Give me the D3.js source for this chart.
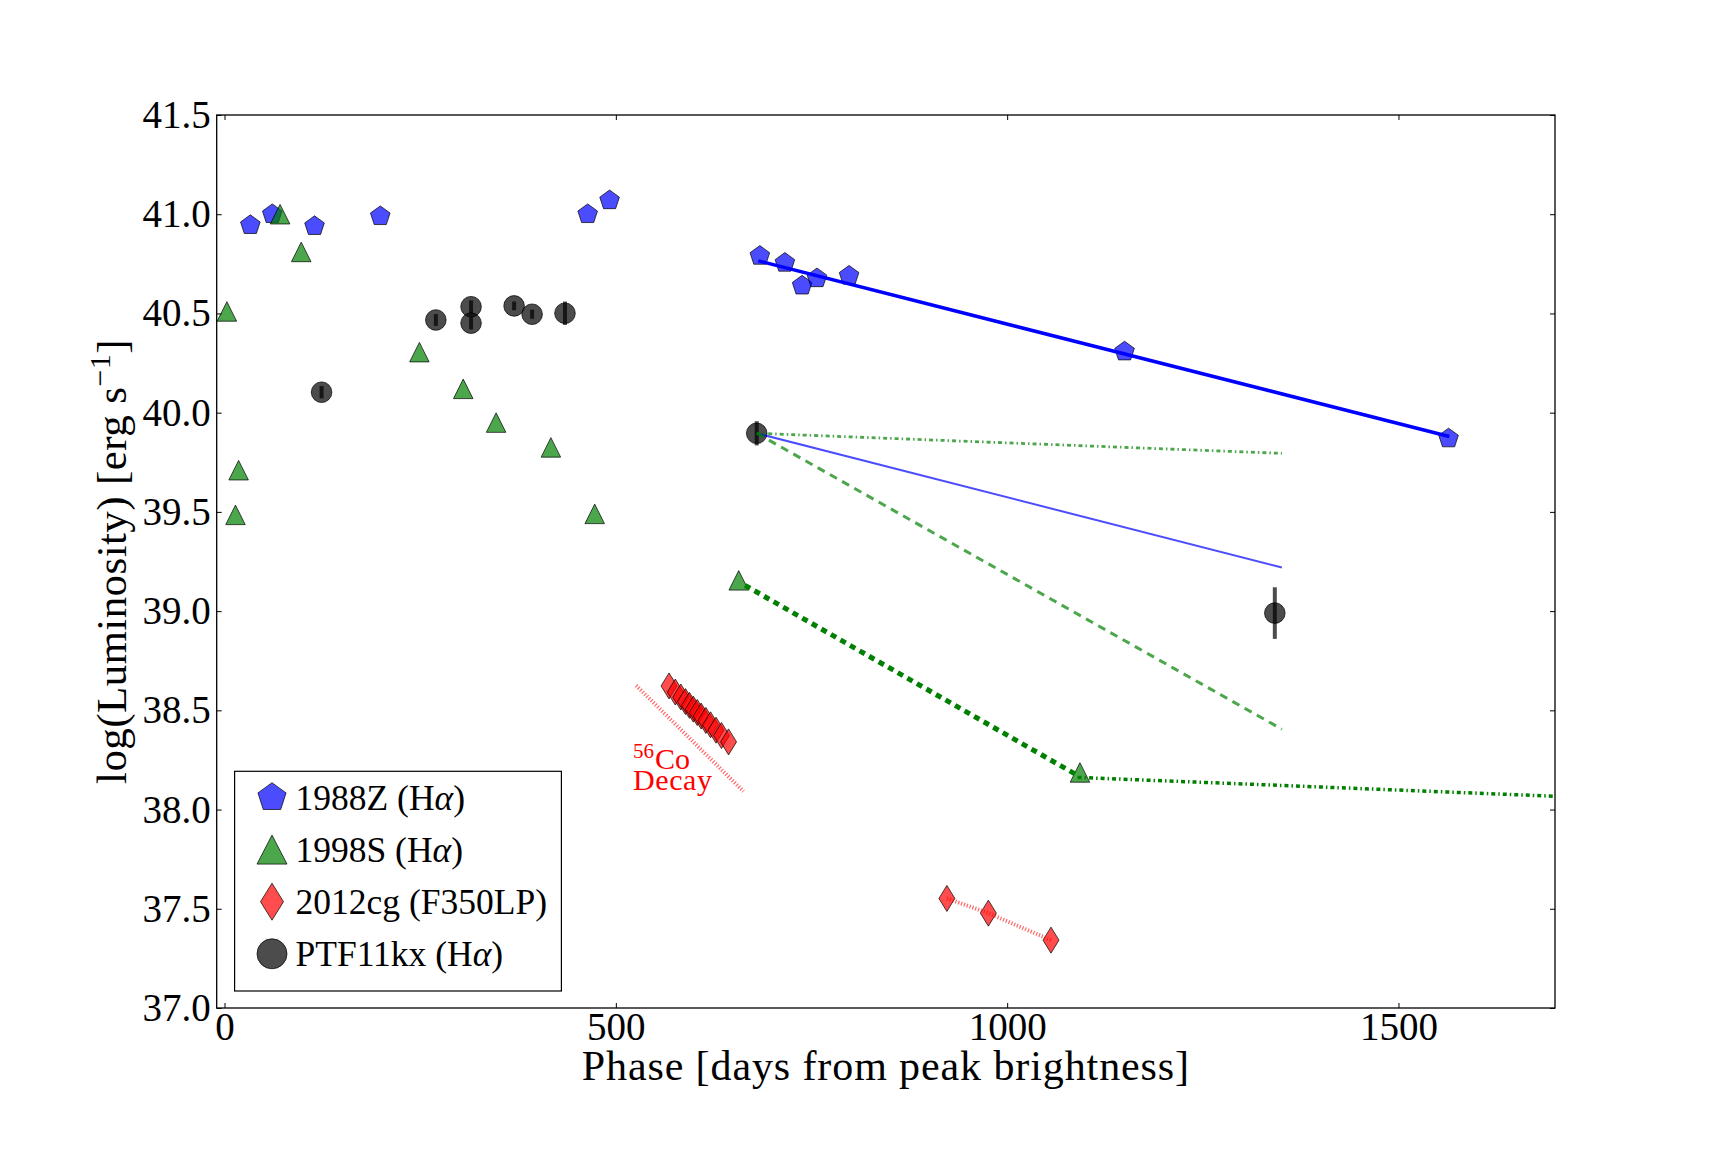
<!DOCTYPE html>
<html>
<head>
<meta charset="utf-8">
<script src="https://cdn.jsdelivr.net/npm/d3@7"></script>
<style>
  body { margin: 0; background: #fff; }
  text { font-family: "Liberation Serif", "DejaVu Serif", serif; }
</style>
</head>
<body>
<svg id="chart" width="1728" height="1152"></svg>
<script>
// values (days from peak, log L)
var sn1988zDays = [33, 61, 115, 199, 464, 492, 684, 716, 738, 757, 798, 1150, 1564];
var sn1988zLum  = [40.945, 41.0, 40.94, 40.99, 41.0, 41.07, 40.79, 40.755, 40.64, 40.677, 40.69, 40.308, 39.87];

var sn1998sDays = [3, 14, 18, 71, 98, 249, 305, 347, 417, 473, 657, 1093];
var sn1998sLum  = [40.51, 39.485, 39.71, 41.0, 40.81, 40.305, 40.12, 39.95, 39.825, 39.49, 39.155, 38.187];

var sn2012cgDays = [568, 576, 583, 589, 594, 599, 604, 609, 615, 621, 628, 635, 644, 923, 976, 1056];
var sn2012cgLum  = [38.623, 38.592, 38.567, 38.544, 38.525, 38.506, 38.489, 38.471, 38.449, 38.427, 38.40, 38.373, 38.341, 37.552, 37.478, 37.342];

var ptf11kxDays = [124, 270, 315, 315, 370, 393, 435, 680, 1342];
var ptf11kxLum  = [40.103, 40.467, 40.534, 40.451, 40.538, 40.496, 40.501, 39.896, 38.99];
var ptf11kxErr  = [0.031, 0.03, 0.032, 0.032, 0.022, 0.023, 0.059, 0.061, 0.13];

// model / fit lines, [day, logL] end points
var fit1988z      = [[682, 40.765], [1565, 39.88]];
var ptfSlow1988z  = [[680, 39.896], [1351, 39.22]];
var ptfFlat1998s  = [[680, 39.896], [1351, 39.795]];
var ptfSteep1998s = [[680, 39.896], [1351, 38.405]];
var fit1998sEarly = [[665, 39.13], [1090, 38.172]];
var fit1998sLate  = [[1090, 38.162], [1700, 38.067]];
var cobaltDecay   = [[526, 38.625], [663, 38.092]];
var fit2012cgLate = [[923, 37.552], [976, 37.478], [1056, 37.342]];

var xTicks = [0, 500, 1000, 1500];
var yTicks = [37.0, 37.5, 38.0, 38.5, 39.0, 39.5, 40.0, 40.5, 41.0, 41.5];

var legendLabels = ["1988Z (H", "1998S (H", "2012cg (F350LP)", "PTF11kx (H"];
var legendAlpha  = [true, true, false, true];

var plot = { left: 216.7, right: 1555, top: 115, bottom: 1008 };

var svg = d3.select("#chart");

var x = d3.scaleLinear().domain([-10, 1700]).range([plot.left, plot.right]);
var y = d3.scaleLinear().domain([37, 41.5]).range([plot.bottom, plot.top]);

var edge = "rgba(0,0,0,0.7)";
var blueFill = "rgba(0,0,255,0.7)";
var greenFill = "rgba(0,128,0,0.7)";
var redFill = "rgba(255,0,0,0.7)";
var blackFill = "rgba(0,0,0,0.7)";

function pentagon(r) {
  var p = d3.path();
  for (var i = 0; i < 5; i++) {
    var a = -Math.PI / 2 + i * 2 * Math.PI / 5;
    if (i == 0) p.moveTo(r * Math.cos(a), r * Math.sin(a));
    else p.lineTo(r * Math.cos(a), r * Math.sin(a));
  }
  p.closePath();
  return p.toString();
}
function triangle(w, h) {
  return "M0," + (-h / 2) + "L" + (w / 2) + "," + (h / 2) + "L" + (-w / 2) + "," + (h / 2) + "Z";
}
function diamond(w, h) {
  return "M0," + (-h / 2) + "L" + (w / 2) + ",0L0," + (h / 2) + "L" + (-w / 2) + ",0Z";
}

// clip for lines reaching the right spine
svg.append("clipPath").attr("id", "clip")
  .append("rect")
  .attr("x", plot.left).attr("y", plot.top)
  .attr("width", plot.right - plot.left).attr("height", plot.bottom - plot.top);

var marks = svg.append("g");

// 1988Z
marks.append("g").selectAll("path")
  .data(sn1988zDays)
  .enter()
  .append("path")
  .attr("d", pentagon(10.3))
  .attr("transform", function (d, i) { return "translate(" + x(d) + "," + y(sn1988zLum[i]) + ")"; })
  .attr("fill", blueFill)
  .attr("stroke", edge)
  .attr("stroke-width", 1);

// 1998S
marks.append("g").selectAll("path")
  .data(sn1998sDays)
  .enter()
  .append("path")
  .attr("d", triangle(19.5, 19.5))
  .attr("transform", function (d, i) { return "translate(" + x(d) + "," + y(sn1998sLum[i]) + ")"; })
  .attr("fill", greenFill)
  .attr("stroke", edge)
  .attr("stroke-width", 1);

// 2012cg
marks.append("g").selectAll("path")
  .data(sn2012cgDays)
  .enter()
  .append("path")
  .attr("d", diamond(16, 26))
  .attr("transform", function (d, i) { return "translate(" + x(d) + "," + y(sn2012cgLum[i]) + ")"; })
  .attr("fill", redFill)
  .attr("stroke", edge)
  .attr("stroke-width", 1);

// PTF11kx with error bars
marks.append("g").selectAll("circle")
  .data(ptf11kxDays)
  .enter()
  .append("circle")
  .attr("cx", function (d) { return x(d); })
  .attr("cy", function (d, i) { return y(ptf11kxLum[i]); })
  .attr("r", 10.3)
  .attr("fill", blackFill)
  .attr("stroke", edge)
  .attr("stroke-width", 1);

marks.append("g").selectAll("line")
  .data(ptf11kxDays)
  .enter()
  .append("line")
  .attr("x1", function (d) { return x(d); })
  .attr("x2", function (d) { return x(d); })
  .attr("y1", function (d, i) { return y(ptf11kxLum[i] + ptf11kxErr[i]); })
  .attr("y2", function (d, i) { return y(ptf11kxLum[i] - ptf11kxErr[i]); })
  .attr("stroke", "rgba(0,0,0,0.7)")
  .attr("stroke-width", 4);

// lines on top of markers
var line = d3.line()
  .x(function (d) { return x(d[0]); })
  .y(function (d) { return y(d[1]); });

var lines = svg.append("g").attr("clip-path", "url(#clip)").attr("fill", "none");

function drawLine(pts, color, width, dash) {
  var p = lines.append("path")
    .datum(pts)
    .attr("d", line)
    .attr("stroke", color)
    .attr("stroke-width", width);
  if (dash) p.attr("stroke-dasharray", dash);
}

drawLine(fit1988z, "#0000ff", 3.5, null);
drawLine(ptfSlow1988z, "rgba(0,0,255,0.7)", 2, null);
drawLine(ptfFlat1998s, "rgba(0,128,0,0.7)", 2.8, "4,3,1.5,3");
drawLine(ptfSteep1998s, "rgba(0,128,0,0.7)", 3, "8,6");
drawLine(fit1998sEarly, "#008000", 5, "6,5");
drawLine(fit1998sLate, "#008000", 3.5, "4,3,1.5,3");
drawLine(cobaltDecay, "rgba(255,0,0,0.6)", 4, "1.2,1.8");
drawLine(fit2012cgLate, "rgba(255,0,0,0.6)", 4, "1.2,1.8");

// 56Co decay note
var note = svg.append("g").attr("fill", "#ff0000");
note.append("text").attr("x", 633).attr("y", 758).attr("font-size", 21).text("56");
note.append("text").attr("x", 655).attr("y", 769).attr("font-size", 30).text("Co");
note.append("text").attr("x", 633).attr("y", 790).attr("font-size", 30).attr("letter-spacing", 0.6).text("Decay");

// axes: ticks inward on all four sides
function styleAxis(g) {
  g.select(".domain").remove();
  g.selectAll(".tick line").attr("stroke", "#000").attr("stroke-width", 1);
  g.selectAll(".tick text")
    .attr("fill", "#000")
    .style("font-family", "'Liberation Serif', serif")
    .attr("font-size", 39);
}

svg.append("g")
  .attr("transform", "translate(0," + plot.bottom + ")")
  .call(d3.axisBottom(x).tickValues(xTicks).tickSizeInner(-5).tickSizeOuter(0).tickPadding(4)
    .tickFormat(d3.format("d")))
  .call(styleAxis);

svg.append("g")
  .attr("transform", "translate(0," + plot.top + ")")
  .call(d3.axisTop(x).tickValues(xTicks).tickSizeInner(-5).tickSizeOuter(0).tickFormat(""))
  .call(styleAxis);

svg.append("g")
  .attr("transform", "translate(" + plot.left + ",0)")
  .call(d3.axisLeft(y).tickValues(yTicks).tickSizeInner(-5).tickSizeOuter(0).tickPadding(6)
    .tickFormat(d3.format(".1f")))
  .call(styleAxis);

svg.append("g")
  .attr("transform", "translate(" + plot.right + ",0)")
  .call(d3.axisRight(y).tickValues(yTicks).tickSizeInner(-5).tickSizeOuter(0).tickFormat(""))
  .call(styleAxis);

svg.append("rect")
  .attr("x", plot.left).attr("y", plot.top)
  .attr("width", plot.right - plot.left).attr("height", plot.bottom - plot.top)
  .attr("fill", "none")
  .attr("stroke", "#000")
  .attr("stroke-width", 1.3);

// axis labels
svg.append("text")
  .attr("x", (plot.left + plot.right) / 2)
  .attr("y", 1080)
  .attr("text-anchor", "middle")
  .attr("font-size", 42)
  .attr("letter-spacing", 0.9)
  .text("Phase [days from peak brightness]");

var ylab = svg.append("text")
  .attr("transform", "translate(126," + ((plot.top + plot.bottom) / 2) + ") rotate(-90)")
  .attr("text-anchor", "middle")
  .attr("font-size", 43)
  .attr("letter-spacing", 0.4);
ylab.append("tspan").text("log(Luminosity) [erg s");
ylab.append("tspan").attr("font-size", 30).attr("dy", -16).text("\u22121");
ylab.append("tspan").attr("dy", 16).text("]");

// legend
var legend = svg.append("g");
legend.append("rect")
  .attr("x", 234.6).attr("y", 771.3)
  .attr("width", 326.8).attr("height", 219.7)
  .attr("fill", "#fff")
  .attr("stroke", "#000")
  .attr("stroke-width", 1.2);

var legendShapes = [pentagon(14.8), triangle(30, 29), diamond(23, 37), null];
var legendFills = [blueFill, greenFill, redFill, blackFill];

var rows = legend.selectAll("g.row")
  .data(legendLabels)
  .enter()
  .append("g")
  .attr("class", "row")
  .attr("transform", function (d, i) { return "translate(272," + (797.5 + i * 52.1) + ")"; });

rows.each(function (d, i) {
  var r = d3.select(this);
  if (legendShapes[i]) {
    r.append("path").attr("d", legendShapes[i]);
  } else {
    r.append("circle").attr("r", 15);
  }
  r.select(":first-child")
    .attr("fill", legendFills[i])
    .attr("stroke", edge)
    .attr("stroke-width", 1);
  var t = r.append("text").attr("x", 23.5).attr("y", 12).attr("font-size", 35.5);
  t.append("tspan").text(d);
  if (legendAlpha[i]) {
    t.append("tspan").attr("font-style", "italic").text("\u03b1");
    t.append("tspan").text(")");
  }
});
</script>
</body>
</html>
